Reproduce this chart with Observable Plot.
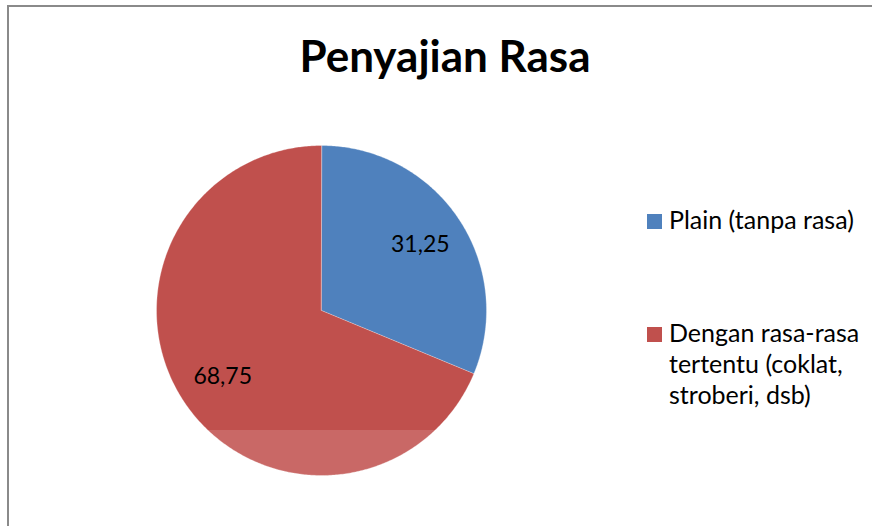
<!DOCTYPE html>
<html>
<head>
<meta charset="utf-8">
<script src="https://cdn.jsdelivr.net/npm/d3@7"></script>
<script src="https://cdn.jsdelivr.net/npm/@observablehq/plot@0.6"></script>
<style>
  html, body { margin: 0; padding: 0; background: #fff; }
  #wrap { position: relative; width: 872px; height: 526px; overflow: hidden; background: #fff; font-family: Lato, "Open Sans", sans-serif; }
  #frame { position: absolute; left: 7px; top: 5px; width: 1000px; height: 1000px; border: 2px solid #8a8a8a; box-sizing: border-box; }
  #title { position: absolute; left: 0; top: 33px; width: 890px; text-align: center; font-weight: 700; font-size: 44px; line-height: 1; color: #000; }
  #chart { position: absolute; left: 156px; top: 145px; }
  #legend { position: absolute; left: 647px; top: 0; }
  .item { position: absolute; left: 0; width: 222px; }
  .sw { position: absolute; left: 0; width: 15px; height: 15px; }
  .lab { position: absolute; left: 22px; width: 202px; font-size: 25px; line-height: 31.3px; color: #000; white-space: normal; }
  #band { position: absolute; left: 150px; top: 430px; width: 360px; height: 100px; background: rgba(255,255,255,0.14); }
</style>
</head>
<body>
<div id="wrap">
  <div id="frame"></div>
  <div id="title"></div>
  <div id="chart"></div>
  <div id="band"></div>
  <div id="legend"></div>
</div>
<script>
const title = "Penyajian Rasa";
const categories = ["Plain (tanpa rasa)", "Dengan rasa-rasa tertentu (coklat, stroberi, dsb)"];
const values = [31.25, 68.75];
const valueLabels = ["31,25", "68,75"];
const colors = ["#4F81BD", "#C0504D"];

document.getElementById("title").textContent = title;

// pie geometry (clockwise from 12 o'clock)
const arcs = d3.pie().sort(null).startAngle(0).endAngle(2 * Math.PI)(values);
const slices = arcs.map((a, i) => {
  const pts = [{x: 0, y: 0}];
  const n = Math.max(8, Math.ceil((a.endAngle - a.startAngle) / 0.01));
  for (let k = 0; k <= n; k++) {
    const t = a.startAngle + (a.endAngle - a.startAngle) * k / n;
    pts.push({x: Math.sin(t), y: Math.cos(t)});
  }
  return pts;
});
const labelData = arcs.map((a, i) => {
  const m = (a.startAngle + a.endAngle) / 2;
  return {x: 0.72 * Math.sin(m), y: 0.72 * Math.cos(m), text: valueLabels[i]};
});

const plot = Plot.plot({
  width: 330,
  height: 330,
  margin: 0,
  x: {domain: [-1, 1], axis: null},
  y: {domain: [-1, 1], axis: null},
  marks: [
    ...slices.map((pts, i) => Plot.line(pts, {x: "x", y: "y", fill: colors[i], stroke: "#ffffff", strokeOpacity: 0.5, strokeWidth: 0.6, curve: "linear-closed"})),
    Plot.text(labelData, {x: "x", y: "y", text: "text", fontSize: 23, fontFamily: "Lato", fill: "#000", textAnchor: "middle", lineAnchor: "middle"})
  ],
  style: {background: "transparent", overflow: "visible"}
});
document.getElementById("chart").appendChild(plot);

// legend
const legend = document.getElementById("legend");
const tops = [214, 327];
categories.forEach((c, i) => {
  const item = document.createElement("div");
  item.className = "item";
  item.style.top = tops[i] + "px";
  const sw = document.createElement("div");
  sw.className = "sw";
  sw.style.top = "0px";
  sw.style.background = colors[i];
  const lab = document.createElement("div");
  lab.className = "lab";
  lab.style.top = "-10.4px";
  lab.textContent = c;
  item.appendChild(sw);
  item.appendChild(lab);
  legend.appendChild(item);
});
</script>
</body>
</html>
